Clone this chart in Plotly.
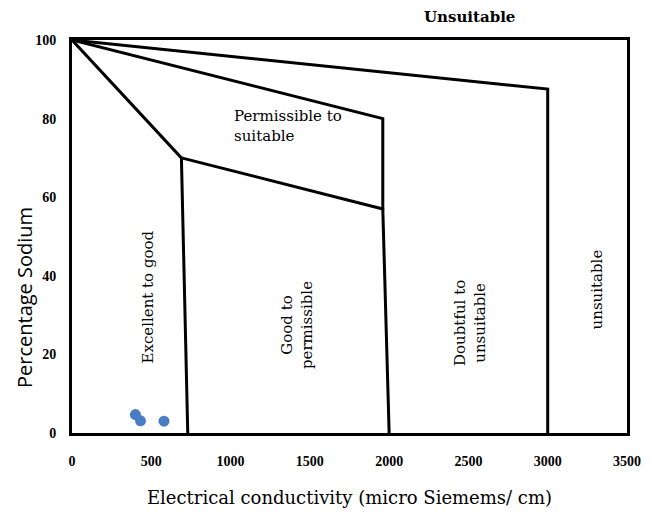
import plotly.graph_objects as go

# Boundary lines of the Wilcox-type diagram (EC, %Na)
excellent_x = [0, 690, 730]
excellent_y = [100, 70, 0]
good_x = [690, 1960, 2000]
good_y = [70, 57, 0]
permissible_x = [0, 1960, 1960]
permissible_y = [100, 80, 57]
doubtful_x = [0, 3000, 3000]
doubtful_y = [100, 87.5, 0]

# Samples
sample_ec = [400, 432, 580]
sample_na = [4.7, 3.1, 3.0]

x_ticks = [0, 500, 1000, 1500, 2000, 2500, 3000, 3500]
y_ticks = [0, 20, 40, 60, 80, 100]

fig = go.Figure()
for xs, ys in [(excellent_x, excellent_y), (good_x, good_y),
               (permissible_x, permissible_y), (doubtful_x, doubtful_y)]:
    fig.add_trace(go.Scatter(x=xs, y=ys, mode="lines",
                             line=dict(color="black", width=3),
                             hoverinfo="skip", showlegend=False))
fig.add_trace(go.Scatter(x=sample_ec, y=sample_na, mode="markers",
                         marker=dict(color="#4a7cc4", size=11),
                         showlegend=False))

serif = "DejaVu Serif"
lab = dict(family=serif, size=15, color="black")
ann = [
    dict(x=1010, y=78, text="Permissible to<br>suitable", xanchor="left", align="left", textangle=0),
    dict(x=480, y=34.5, text="Excellent to good", textangle=-90),
    dict(x=1420, y=27.5, text="Good to<br>permissible", textangle=-90),
    dict(x=2510, y=28, text="Doubtful to<br>unsuitable", textangle=-90),
    dict(x=3310, y=36.5, text="unsuitable", textangle=-90),
]
for a in ann:
    fig.add_annotation(xref="x", yref="y", showarrow=False, font=lab, **a)
fig.add_annotation(xref="paper", yref="paper", x=0.717, y=1.0, xanchor="center",
                   yanchor="bottom", yshift=12,
                   text="<b>Unsuitable</b>", showarrow=False,
                   font=dict(family=serif, size=15, color="black"))
fig.add_annotation(xref="paper", yref="paper", x=-0.0865, y=0.346, xanchor="center",
                   yanchor="middle", textangle=-90, text="Percentage Sodium",
                   showarrow=False, font=dict(family="Open Sans", size=20, color="black"))

tickfont = dict(family="Liberation Serif", size=14, color="black", weight="bold")
fig.update_layout(
    width=654, height=518,
    margin=dict(l=72, r=27, t=40, b=85),
    paper_bgcolor="white", plot_bgcolor="white",
    xaxis=dict(range=[0, 3500], tickvals=x_ticks, showgrid=False, zeroline=False,
               showline=True, linecolor="black", linewidth=3, mirror=True,
               ticks="", tickfont=tickfont, ticklabelstandoff=13,
               title=dict(text="Electrical conductivity (micro Siemems/ cm)",
                          font=dict(family=serif, size=18, color="black"), standoff=24)),
    yaxis=dict(range=[0, 100], tickvals=y_ticks, showgrid=False, zeroline=False,
               showline=True, linecolor="black", linewidth=3, mirror=True,
               ticks="", tickfont=tickfont, ticklabelstandoff=10),
)
fig.write_html("out.html")
